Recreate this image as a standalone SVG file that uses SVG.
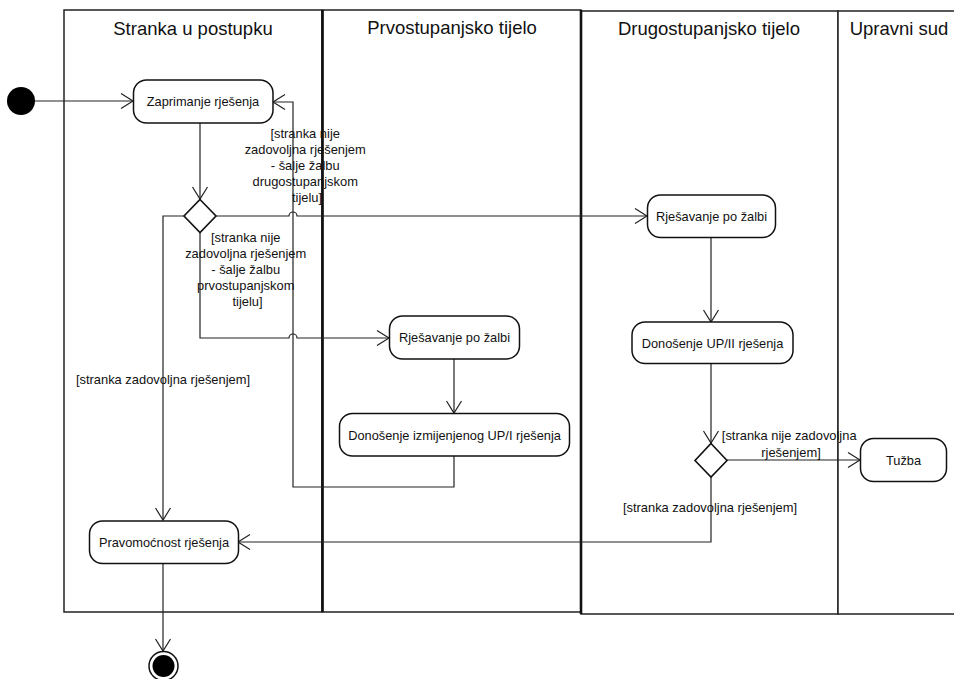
<svg xmlns="http://www.w3.org/2000/svg" width="954" height="679" viewBox="0 0 954 679">
  <style>
    .lane { fill: #fff; stroke: #222; stroke-width: 1.5; }
    .divider { stroke: #111; stroke-width: 2.6; fill: none; }
    .head { font-family: "Liberation Sans", Arial, sans-serif; font-size: 18.5px; fill: #111; text-anchor: middle; }
    .act { fill: #fff; stroke: #111; stroke-width: 1.5; }
    .label { font-family: "Liberation Sans", Arial, sans-serif; font-size: 12.8px; fill: #111; text-anchor: middle; }
    .guard { font-family: "Liberation Sans", Arial, sans-serif; font-size: 12.9px; fill: #111; text-anchor: middle; }
    .flow { fill: none; stroke: #222; stroke-width: 1.2; }
    .arrow { marker-end: url(#open); }
    .decision { fill: #fff; stroke: #111; stroke-width: 1.6; }
  </style>
  <defs>
    <marker id="open" viewBox="-14 -9 16 18" refX="0" refY="0" markerWidth="16" markerHeight="18" markerUnits="userSpaceOnUse" orient="auto">
      <path d="M-12,-7.5 L0,0 L-12,7.5" fill="none" stroke="#222" stroke-width="1.2"/>
    </marker>
  </defs>

  <rect width="954" height="679" fill="#fff"/>

  <!-- swimlanes -->
  <g id="lanes">
    <g id="lane-stranka">
      <rect class="lane" x="64" y="10" width="258" height="602"/>
      <text class="head" x="193" y="35">Stranka u postupku</text>
    </g>
    <g id="lane-prvostupanjsko">
      <rect class="lane" x="322.5" y="10" width="258.5" height="602"/>
      <text class="head" x="452" y="34">Prvostupanjsko tijelo</text>
    </g>
    <g id="lane-drugostupanjsko">
      <rect class="lane" x="581" y="11" width="257" height="603"/>
      <text class="head" x="709" y="35">Drugostupanjsko tijelo</text>
    </g>
    <g id="lane-upravni-sud">
      <rect class="lane" x="838" y="11" width="130" height="603"/>
      <text class="head" x="899" y="35">Upravni sud</text>
    </g>
    <line class="divider" x1="322.5" y1="10" x2="322.5" y2="612"/>
    <line class="divider" x1="581" y1="10" x2="581" y2="614"/>
  </g>

  <!-- connectors -->
  <g id="connectors">
    <path class="flow arrow" d="M35,101 H133"/>
    <path class="flow arrow" d="M200,123 V199"/>
    <path class="flow arrow" d="M216,216 H289 A4,4 0 0 1 297,216 H647"/>
    <path class="flow arrow" d="M200,233 V338 H289 A4,4 0 0 1 297,338 H389"/>
    <path class="flow arrow" d="M184,216 H163 V520"/>
    <path class="flow arrow" d="M454,359 V413"/>
    <path class="flow arrow" d="M454,456 V487 H293 V102 H273"/>
    <path class="flow arrow" d="M711,237 V322"/>
    <path class="flow arrow" d="M711,363 V443"/>
    <path class="flow arrow" d="M727,460 H860"/>
    <path class="flow arrow" d="M711,477 V542 H238"/>
    <path class="flow arrow" d="M163,563 V651"/>

    <text class="guard">
      <tspan x="307" y="138">[stranka nije</tspan>
      <tspan x="307" y="154">zadovoljna rješenjem</tspan>
      <tspan x="307" y="170">- šalje žalbu</tspan>
      <tspan x="307" y="186">drugostupanjskom</tspan>
      <tspan x="307" y="202">tijelu]</tspan>
    </text>
    <text class="guard">
      <tspan x="247.5" y="241.5">[stranka nije</tspan>
      <tspan x="247.5" y="258">zadovoljna rješenjem</tspan>
      <tspan x="247.5" y="274">- šalje žalbu</tspan>
      <tspan x="247.5" y="290">prvostupanjskom</tspan>
      <tspan x="247.5" y="306">tijelu]</tspan>
    </text>
    <text class="guard" x="163" y="384">[stranka zadovoljna rješenjem]</text>
    <text class="guard">
      <tspan x="791" y="440">[stranka nije zadovoljna</tspan>
      <tspan x="791" y="456.5">rješenjem]</tspan>
    </text>
    <text class="guard" x="710" y="512">[stranka zadovoljna rješenjem]</text>
  </g>

  <!-- nodes -->
  <g id="start">
    <circle cx="21" cy="101" r="14" fill="#000"/>
  </g>
  <g id="zaprimanje">
    <rect class="act" x="133.5" y="80" width="139.5" height="43" rx="13"/>
    <text class="label" x="203" y="106">Zaprimanje rješenja</text>
  </g>
  <g id="odluka-stranke">
    <polygon class="decision" points="200,199.5 216,216 200,232.5 184,216"/>
  </g>
  <g id="rjesavanje-prvo">
    <rect class="act" x="389.5" y="316" width="130" height="43" rx="13"/>
    <text class="label" x="454.5" y="342">Rješavanje po žalbi</text>
  </g>
  <g id="donosenje-izmijenjenog">
    <rect class="act" x="339.5" y="413.5" width="230" height="42.5" rx="13"/>
    <text class="label" x="454.5" y="439.5">Donošenje izmijenjenog UP/I rješenja</text>
  </g>
  <g id="rjesavanje-drugo">
    <rect class="act" x="647.5" y="195" width="128" height="42.5" rx="13"/>
    <text class="label" x="711.5" y="221">Rješavanje po žalbi</text>
  </g>
  <g id="donosenje-up2">
    <rect class="act" x="632" y="322" width="161" height="41.5" rx="13"/>
    <text class="label" x="712.5" y="347.5">Donošenje UP/II rješenja</text>
  </g>
  <g id="odluka-drugo">
    <polygon class="decision" points="711,443.5 727,460.5 711,477 695,460.5"/>
  </g>
  <g id="tuzba">
    <rect class="act" x="860.5" y="438.5" width="86" height="43" rx="13"/>
    <text class="label" x="903.5" y="464.5">Tužba</text>
  </g>
  <g id="pravomocnost">
    <rect class="act" x="89.5" y="521" width="149" height="42.5" rx="13"/>
    <text class="label" x="164" y="547">Pravomoćnost rješenja</text>
  </g>
  <g id="kraj">
    <circle cx="163.5" cy="666" r="14.5" fill="#fff" stroke="#111" stroke-width="1.5"/>
    <circle cx="163.5" cy="666" r="11" fill="#000"/>
  </g>
</svg>
